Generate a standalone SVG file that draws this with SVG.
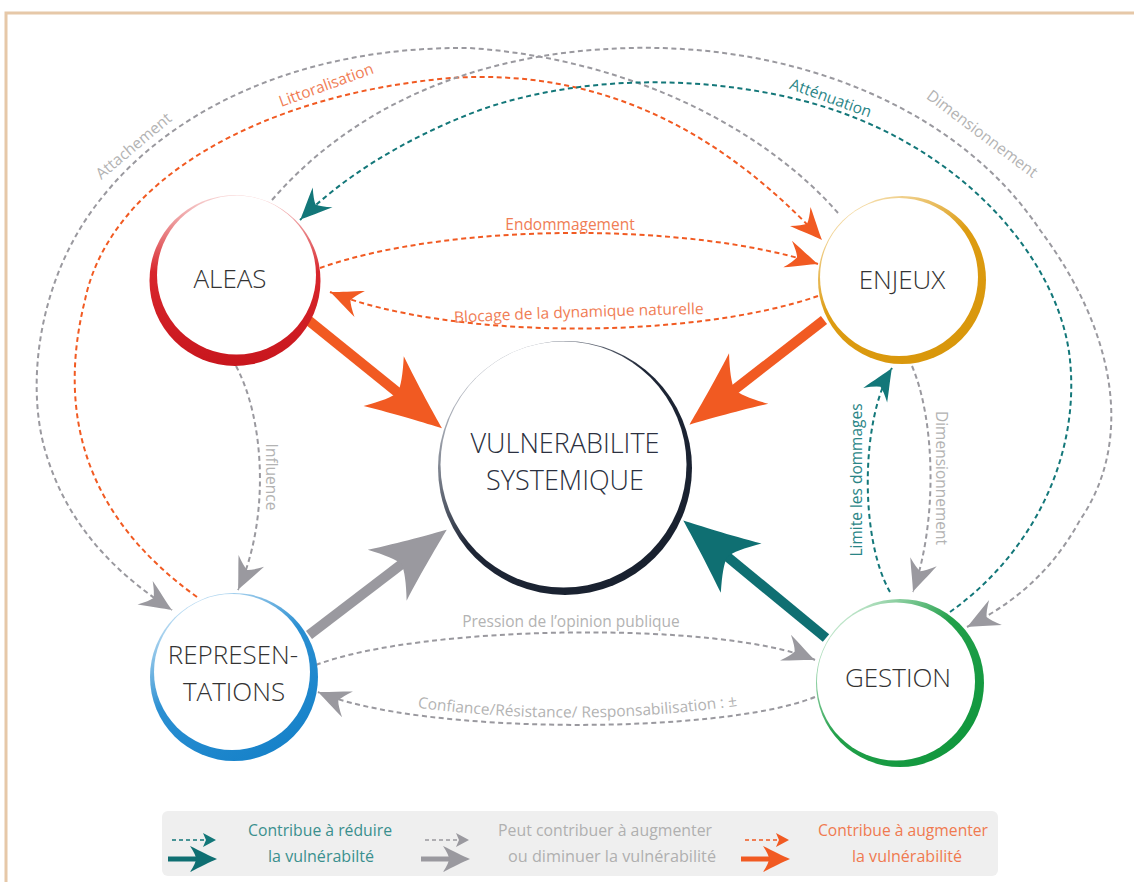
<svg xmlns="http://www.w3.org/2000/svg" width="1134" height="882" viewBox="0 0 1134 882">
<style>
 .f{font-family:"Open Sans","Noto Sans","DejaVu Sans",sans-serif;}
 .node{font-size:26px;font-weight:300;fill:#333;text-anchor:middle;}
 .d{fill:none;stroke-width:2;stroke-dasharray:5 3.5;}
 .do{stroke:#f15a22;} .dg{stroke:#9a999f;} .dt{stroke:#137779;}
 .thick{fill:none;stroke-width:10;}
 .lo{fill:#f07d55;} .lg{fill:#b3b3b3;} .lt{fill:#2a8586;}
 .cl{font-size:15.5px;text-anchor:middle;}
 .leg{font-size:16px;}
</style>
<defs>
 <marker id="so" markerUnits="userSpaceOnUse" viewBox="-34 -16 36 32" markerWidth="36" markerHeight="32" refX="0" refY="0" orient="auto"><path d="M0,0 C-8,-3 -20,-9 -32,-14 Q-24,-5 -22,0 Q-24,5 -32,14 C-20,9 -8,3 0,0Z" fill="#f15a22"/></marker>
 <marker id="sg" markerUnits="userSpaceOnUse" viewBox="-34 -16 36 32" markerWidth="36" markerHeight="32" refX="0" refY="0" orient="auto"><path d="M0,0 C-8,-3 -20,-9 -32,-14 Q-24,-5 -22,0 Q-24,5 -32,14 C-20,9 -8,3 0,0Z" fill="#9a999f"/></marker>
 <marker id="st" markerUnits="userSpaceOnUse" viewBox="-34 -16 36 32" markerWidth="36" markerHeight="32" refX="0" refY="0" orient="auto"><path d="M0,0 C-8,-3 -20,-9 -32,-14 Q-24,-5 -22,0 Q-24,5 -32,14 C-20,9 -8,3 0,0Z" fill="#137779"/></marker>
 <marker id="bo" markerUnits="userSpaceOnUse" viewBox="-35 -35 85 70" markerWidth="85" markerHeight="70" refX="0" refY="0" orient="auto"><path d="M45,0 C30,-6 0,-18 -30,-32 Q-14,-10 -12,0 Q-14,10 -30,32 C0,18 30,6 45,0Z" fill="#f15a22"/></marker>
 <marker id="bg" markerUnits="userSpaceOnUse" viewBox="-35 -35 85 70" markerWidth="85" markerHeight="70" refX="0" refY="0" orient="auto"><path d="M45,0 C30,-6 0,-18 -30,-32 Q-14,-10 -12,0 Q-14,10 -30,32 C0,18 30,6 45,0Z" fill="#9a999f"/></marker>
 <marker id="bt" markerUnits="userSpaceOnUse" viewBox="-35 -35 85 70" markerWidth="85" markerHeight="70" refX="0" refY="0" orient="auto"><path d="M45,0 C30,-6 0,-18 -30,-32 Q-14,-10 -12,0 Q-14,10 -30,32 C0,18 30,6 45,0Z" fill="#0f6f72"/></marker>
 <linearGradient id="gA" x1="0.5" y1="0" x2="0.5" y2="1"><stop offset="0" stop-color="#f8d6d6"/><stop offset="0.45" stop-color="#d8262c"/><stop offset="1" stop-color="#c8161d"/></linearGradient>
 <linearGradient id="gE" x1="0.2" y1="0" x2="0.8" y2="1"><stop offset="0" stop-color="#f8e6c0"/><stop offset="0.45" stop-color="#dd9c12"/><stop offset="1" stop-color="#d8960a"/></linearGradient>
 <linearGradient id="gR" x1="0.2" y1="0" x2="0.8" y2="1"><stop offset="0" stop-color="#d6eaf8"/><stop offset="0.45" stop-color="#2a8fd2"/><stop offset="1" stop-color="#1480c8"/></linearGradient>
 <linearGradient id="gG" x1="0.1" y1="0.1" x2="0.9" y2="0.9"><stop offset="0" stop-color="#d5efdc"/><stop offset="0.45" stop-color="#22a04a"/><stop offset="1" stop-color="#0f963c"/></linearGradient>
 <linearGradient id="gV" x1="0.1" y1="0.1" x2="0.9" y2="0.9"><stop offset="0" stop-color="#c8ccd4"/><stop offset="0.45" stop-color="#1e2636"/><stop offset="1" stop-color="#18202e"/></linearGradient>
</defs>

<rect width="1134" height="882" fill="#fff"/>
<path d="M1134,13 H6 V882" fill="none" stroke="#e6c8a8" stroke-width="3"/>

<g id="connectors">
 <path class="d dg" d="M838,213 C770,135 640,60 470,48 C300,46 170,110 100,200 C40,275 25,380 45,450 C65,520 110,570 172,610" marker-end="url(#sg)"/>
 <path class="d do" d="M197,597 C90,520 55,420 85,300 C110,180 260,95 450,78 C600,68 720,130 822,240" marker-end="url(#so)"/>
 <path class="d dg" d="M272,200 C350,110 470,52 630,48 C800,44 960,110 1040,230 C1115,330 1135,440 1080,520 C1050,575 1010,605 967,627" marker-end="url(#sg)"/>
 <path class="d dt" d="M950,612 C1030,555 1080,460 1070,360 C1060,260 960,140 800,100 C700,75 580,75 480,110 C400,140 340,180 300,220" marker-end="url(#st)"/>
 <path class="d do" d="M320,268 C450,222 690,222 818,264" marker-end="url(#so)"/>
 <path class="d do" d="M818,296 C690,340 450,340 330,292" marker-end="url(#so)"/>
 <path class="d dg" d="M236,366 C265,420 270,520 238,590" marker-end="url(#sg)"/>
 <path class="d dt" d="M890,592 C860,540 860,420 892,368" marker-end="url(#st)"/>
 <path class="d dg" d="M912,366 C935,420 938,520 913,592" marker-end="url(#sg)"/>
 <path class="d dg" d="M316,665 C420,625 720,620 815,660" marker-end="url(#sg)"/>
 <path class="d dg" d="M815,697 C720,735 420,735 318,692" marker-end="url(#sg)"/>
 <path class="thick" stroke="#f15a22" d="M308,320 L407,400" marker-end="url(#bo)"/>
 <path class="thick" stroke="#f15a22" d="M824,320 L725,397" marker-end="url(#bo)"/>
 <path class="thick" stroke="#9a999f" d="M309,635 L411,557" marker-end="url(#bg)"/>
 <path class="thick" stroke="#0f6f72" d="M826,638 L718,549" marker-end="url(#bt)"/>
 <text class="f cl lg" transform="translate(137,150) rotate(-40)">Attachement</text>
 <text class="f cl lo" transform="translate(328,90) rotate(-20)">Littoralisation</text>
 <text class="f cl lt" transform="translate(829,103) rotate(20)">Atténuation</text>
 <text class="f cl lg" transform="translate(979,138) rotate(37)">Dimensionnement</text>
 <text class="f cl lo" x="570" y="230">Endommagement</text>
 <path id="pB" d="M450,323 Q578,316 708,314" fill="none"/>
 <text class="f cl lo"><textPath href="#pB" startOffset="50%">Blocage de la dynamique naturelle</textPath></text>
 <text class="f cl lg" transform="translate(266,477) rotate(90)">Influence</text>
 <text class="f cl lt" transform="translate(862,480) rotate(-90)">Limite les dommages</text>
 <text class="f cl lg" transform="translate(936,478) rotate(90)">Dimensionnement</text>
 <text class="f cl lg" x="571" y="627">Pression de l’opinion publique</text>
 <path id="pC" d="M405,706 Q575,730 750,704" fill="none"/>
 <text class="f cl lg"><textPath href="#pC" startOffset="50%">Confiance/Résistance/ Responsabilisation : ±</textPath></text>
</g>

<g id="aleas">
 <circle cx="235" cy="280.5" r="85.5" fill="url(#gA)"/>
 <circle cx="236.5" cy="275" r="79.5" fill="#fff"/>
 <text class="f node" x="230" y="288">ALEAS</text>
</g>
<g id="enjeux">
 <circle cx="902" cy="280" r="84" fill="url(#gE)"/>
 <circle cx="899" cy="277" r="79" fill="#fff"/>
 <text class="f node" x="902" y="289">ENJEUX</text>
</g>
<g id="representations">
 <circle cx="234" cy="677" r="84" fill="url(#gR)"/>
 <circle cx="232" cy="672" r="78" fill="#fff"/>
 <text class="f node" x="233" y="664">REPRESEN-</text>
 <text class="f node" x="234" y="701">TATIONS</text>
</g>
<g id="gestion">
 <circle cx="900" cy="683" r="84" fill="url(#gG)"/>
 <circle cx="896" cy="681.5" r="79" fill="#fff"/>
 <text class="f node" x="898" y="687">GESTION</text>
</g>
<g id="vulnerabilite">
 <circle cx="565" cy="468" r="127" fill="url(#gV)"/>
 <circle cx="563.5" cy="464.5" r="123" fill="#fff"/>
 <text class="f node" x="565" y="453" style="font-size:27px;fill:#2b3040">VULNERABILITE</text>
 <text class="f node" x="565" y="490" style="font-size:27px;fill:#2b3040">SYSTEMIQUE</text>
</g>

<g id="legend">
 <rect x="162" y="811" width="836" height="65" rx="6" fill="#efefef"/>
 <g id="leg-teal">
  <path class="d dt" d="M172,840 H207" style="stroke-dasharray:4 3;stroke-width:1.6"/>
  <path d="M216,840 L203,833 L206,840 L203,847Z" fill="#137779"/>
  <path d="M168,859 H198" stroke="#0f6f72" stroke-width="5"/>
  <path d="M217,859 C210,856 200,851 190,846 Q196,855 196,859 Q196,863 190,872 C200,867 210,862 217,859Z" fill="#0f6f72"/>
  <text class="f leg" x="248" y="836" fill="#3a8f8e" textLength="144" lengthAdjust="spacingAndGlyphs">Contribue à réduire</text>
  <text class="f leg" x="268" y="862" fill="#3a8f8e" textLength="106" lengthAdjust="spacingAndGlyphs">la vulnérabilté</text>
 </g>
 <g id="leg-gray">
  <path class="d dg" d="M425,840 H460" style="stroke-dasharray:4 3;stroke-width:1.6"/>
  <path d="M469,840 L456,833 L459,840 L456,847Z" fill="#9a999f"/>
  <path d="M421,859 H451" stroke="#9a999f" stroke-width="5"/>
  <path d="M470,859 C463,856 453,851 443,846 Q449,855 449,859 Q449,863 443,872 C453,867 463,862 470,859Z" fill="#9a999f"/>
  <text class="f leg" x="498" y="836" fill="#b0b0b0" textLength="214" lengthAdjust="spacingAndGlyphs">Peut contribuer à augmenter</text>
  <text class="f leg" x="508" y="862" fill="#b0b0b0" textLength="208" lengthAdjust="spacingAndGlyphs">ou diminuer la vulnérabilité</text>
 </g>
 <g id="leg-orange">
  <path class="d do" d="M745,840 H780" style="stroke-dasharray:4 3;stroke-width:1.6"/>
  <path d="M789,840 L776,833 L779,840 L776,847Z" fill="#f15a22"/>
  <path d="M741,859 H771" stroke="#f15a22" stroke-width="5"/>
  <path d="M790,859 C783,856 773,851 763,846 Q769,855 769,859 Q769,863 763,872 C773,867 783,862 790,859Z" fill="#f15a22"/>
  <text class="f leg" x="818" y="836" fill="#f07a50" textLength="170" lengthAdjust="spacingAndGlyphs">Contribue à augmenter</text>
  <text class="f leg" x="852" y="862" fill="#f07a50" textLength="110" lengthAdjust="spacingAndGlyphs">la vulnérabilité</text>
 </g>
</g>
</svg>
